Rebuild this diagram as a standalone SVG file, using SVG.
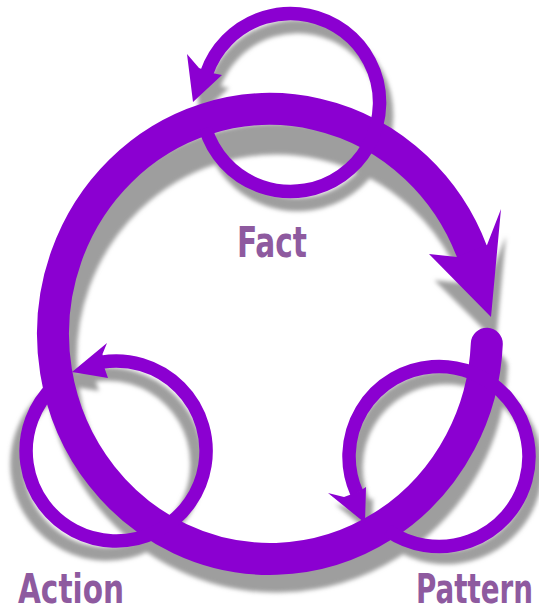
<svg xmlns="http://www.w3.org/2000/svg" xmlns:xlink="http://www.w3.org/1999/xlink" width="539" height="614" viewBox="0 0 539 614">
<style>
.band{fill:none;stroke:currentColor;stroke-width:32;stroke-linecap:round}
.loop{fill:none;stroke:currentColor;stroke-width:13.5}
.fillc{fill:currentColor}
.main{color:#8b00d1}
.shadow{color:#9e9e9e}
.label{font-family:"Liberation Sans Narrow","DejaVu Sans Condensed","Liberation Sans",sans-serif;font-stretch:condensed;font-weight:bold;font-size:42px;fill:#8e5a9f}
.low{font-size:40px}
</style>
<defs>
<filter id="blur" x="-10%" y="-10%" width="120%" height="120%"><feGaussianBlur stdDeviation="2"/></filter>
<g id="ringShape">
<path class="band" d="M 486.8 343.8 A 217 225 0 1 1 471.9 251.5"/>
<polygon class="fillc" points="457,257 429,254 491,317 501,209 487,245"/>
</g>
<g id="factShape">
<path class="loop" d="M 205.4 128.3 A 89 89 0 1 0 206.4 73.6"/>
<polygon class="fillc" points="199,68 187,54 193,102 222,75 212,73"/>
</g>
<g id="actionShape">
<path class="loop" d="M 53.5 386.3 A 90 90 0 1 0 101.9 362.1"/>
<polygon class="fillc" points="102.5,354 107,343 72,372 108,378 104.5,368"/>
</g>
<g id="patternShape">
<path class="loop" d="M 387.4 530.2 A 90 90 0 1 0 356.8 493.1"/>
<polygon class="fillc" points="344,497 328,493 365,523 366,487 359,491.5"/>
</g>
</defs>
<rect width="539" height="614" fill="#ffffff"/>
<g id="shadows" class="shadow" filter="url(#blur)">
<use xlink:href="#ringShape" transform="translate(276.5,358) scale(0.993,0.973) translate(-270,-334)"/>
<use xlink:href="#factShape" transform="translate(7,13)"/>
<use xlink:href="#actionShape" transform="translate(-9,13)"/>
<use xlink:href="#patternShape" transform="translate(7,11)"/>
</g>
<g id="connectors" class="main">
<use xlink:href="#ringShape"/>
</g>
<g id="fact" class="main">
<use xlink:href="#factShape"/>
<text class="label" x="237" y="257" textLength="70" lengthAdjust="spacingAndGlyphs">Fact</text>
</g>
<g id="action" class="main">
<use xlink:href="#actionShape"/>
<text class="label low" x="18" y="603" textLength="106" lengthAdjust="spacingAndGlyphs">Action</text>
</g>
<g id="pattern" class="main">
<use xlink:href="#patternShape"/>
<text class="label low" x="533" y="603" text-anchor="end" textLength="117" lengthAdjust="spacingAndGlyphs">Pattern</text>
</g>
</svg>
